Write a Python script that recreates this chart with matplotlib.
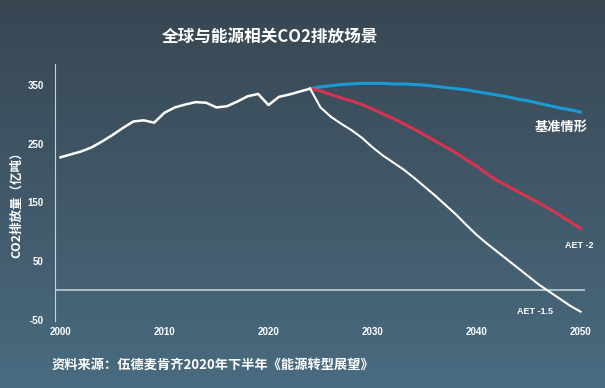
import numpy as np
import matplotlib
matplotlib.use("Agg")
import matplotlib.pyplot as plt
from matplotlib.colors import LinearSegmentedColormap

plt.rcParams['font.family'] = ['Noto Sans CJK SC', 'DejaVu Sans']

hist_years = list(range(2000, 2025))
hist_vals = [227, 232, 237, 244, 254, 265, 277, 288, 290, 286, 303, 312, 317, 321,
             320, 312, 314, 322, 331, 335, 316, 330, 334, 339, 344]

proj_years = list(range(2024, 2051))
base_vals = [344, 347, 349, 351, 352, 353, 353, 353, 352, 352, 351, 350, 348, 346,
             344, 342, 339, 336, 333, 330, 326, 323, 319, 315, 311, 308, 304]
aet2_vals = [344, 340, 334, 328, 323, 317, 309, 301, 293, 284, 275, 265, 255, 245,
             235, 223, 212, 199, 187, 178, 168, 159, 149, 139, 128, 117, 106]
aet15_vals = [344, 312, 296, 284, 273, 260, 244, 230, 218, 206, 192, 177, 162, 146,
              130, 112, 95, 80, 66, 52, 38, 24, 10, -2, -14, -26, -36]

x_ticks = [2000, 2010, 2020, 2030, 2040, 2050]
y_ticks = [-50, 50, 150, 250, 350]

title = "全球与能源相关CO2排放场景"
ylabel = "CO2排放量（亿吨）"
source = "资料来源：伍德麦肯齐2020年下半年《能源转型展望》"

W, H = 605, 388
fig = plt.figure(figsize=(W / 100, H / 100), dpi=100)

# gradient background
bg = fig.add_axes([0, 0, 1, 1], zorder=0)
cmap = LinearSegmentedColormap.from_list("bg", ["#384652", "#4a6b80"])
grad = np.linspace(0, 1, 256).reshape(-1, 1)
bg.imshow(grad, aspect="auto", cmap=cmap, extent=[0, 1, 1, 0])
bg.axis("off")

left, right = 55 / W, 585 / W
bottom, top = 1 - 321 / H, 1 - 64 / H
ax = fig.add_axes([left, bottom, right - left, top - bottom], zorder=1)
ax.set_facecolor("none")
ax.set_xlim(1999.47, 2050.43)
ax.set_ylim(-52, 386)

ax.axhline(0, color="#b4c6ce", lw=1.3, zorder=1)
ax.plot(hist_years, hist_vals, color="white", lw=1.8, zorder=4)
ax.plot(proj_years, base_vals, color="#1a9ad6", lw=2.2, zorder=3)
ax.plot(proj_years, aet2_vals, color="#d8334f", lw=2.2, zorder=3)
ax.plot(proj_years, aet15_vals, color="white", lw=1.5, zorder=3)

for s in ["top", "right", "bottom"]:
    ax.spines[s].set_visible(False)
ax.spines["left"].set_color("#c8d4da")
ax.spines["left"].set_linewidth(0.8)

narrow = ["Liberation Sans Narrow", "Liberation Sans", "DejaVu Sans"]
ax.set_xticks(x_ticks)
ax.set_xticklabels([str(t) for t in x_ticks])
ax.set_yticks(y_ticks)
ax.set_yticklabels([str(t) for t in y_ticks])
ax.tick_params(length=0, colors="white", labelsize=7)
ax.tick_params(axis="x", pad=4)
ax.tick_params(axis="y", pad=8)
for lab in ax.get_xticklabels() + ax.get_yticklabels():
    lab.set_fontweight("bold")
    lab.set_family(narrow)

fig.text(270 / W, 1 - 37 / H, title, color="white", fontsize=12, fontweight="bold",
         ha="center", va="center")
fig.text(17 / W, 1 - 202 / H, ylabel, color="white", fontsize=9, fontweight="bold",
         rotation=90, ha="center", va="center")
fig.text(52 / W, 1 - 365 / H, source, color="white", fontsize=9.5, fontweight="bold",
         ha="left", va="center")

fig.text(561 / W, 1 - 127 / H, "基准情形", color="white",
         fontsize=9.5, fontweight="bold", ha="center", va="center")
fig.text(579 / W, 1 - 246 / H, "AET -2", color="white", fontsize=6.5, fontweight="bold",
         ha="center", va="center", family=narrow)
fig.text(535 / W, 1 - 312 / H, "AET -1.5", color="white", fontsize=6.5, fontweight="bold",
         ha="center", va="center", family=narrow)

fig.savefig("out.png", dpi=100)
